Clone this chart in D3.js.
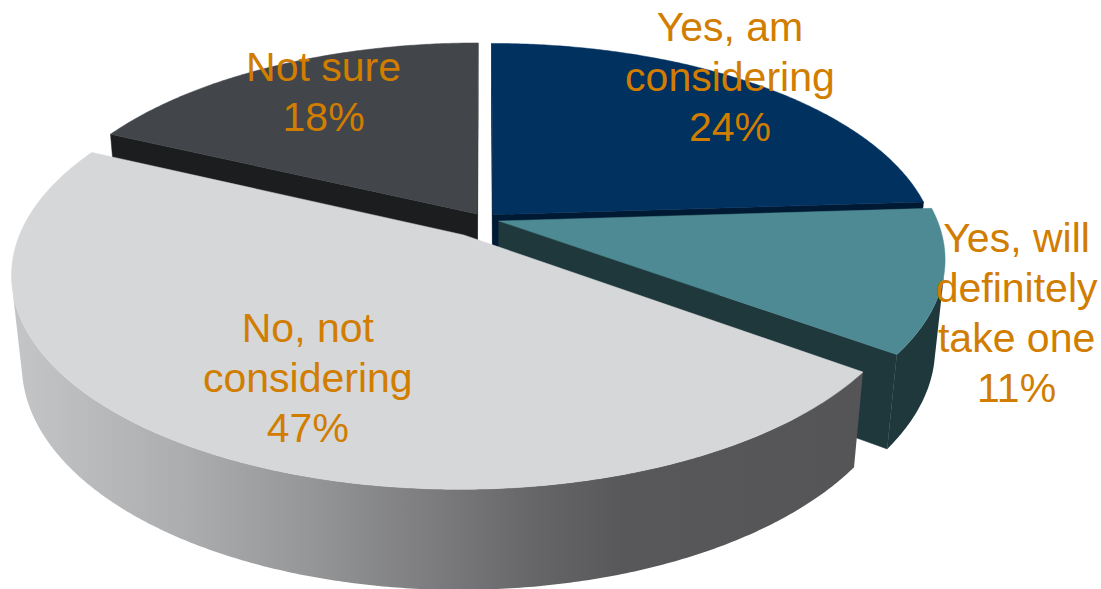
<!DOCTYPE html>
<html>
<head>
<meta charset="utf-8">
<script src="https://cdn.jsdelivr.net/npm/d3@7"></script>
<style>
  html, body { margin: 0; padding: 0; background: #ffffff; }
  svg { display: block; }
</style>
</head>
<body>
<svg id="chart" width="1101" height="589"></svg>
<script>
// ---- data ----
const categories = ["Yes, am considering", "Yes, will definitely take one", "No, not considering", "Not sure"];
const labelLines = [["Yes, am", "considering"], ["Yes, will", "definitely", "take one"], ["No, not", "considering"], ["Not sure"]];
const values = [24, 11, 47, 18];

// ---- styling ----
const topColors  = ["#00315f", "#4e8a93", "#d6d7d9", "#42464b"];
const sideColors = ["#011a34", "#1f383c", "url(#wallGrad)", "#1c1d1f"];
const explode    = [0.03, 0.035, 0.09, 0.03];      // radial offset, in pie radii
const labelRadius = [1.0, 1.167, 0.68, 0.79];      // label anchor on the top plane, in pie radii
const labelTurn   = [-4.8, 4.6, -3.7, 2.3];        // label angle relative to slice middle, degrees
const labelColor = "#d17d00";

// ---- 3D view ----
const cam = { phi: 27.6 * Math.PI / 180, dist: 5, focal: 2190, cx: 484, cy: 219 };
const thickness = 0.23;
const sp = Math.sin(cam.phi), cp = Math.cos(cam.phi);
const eye = [0, cam.dist * sp, cam.dist * cp];

function project(p) {
  const vx = p[0] - eye[0], vy = p[1] - eye[1], vz = p[2] - eye[2];
  const yc = vy * cp - vz * sp;
  const zc = -vy * sp - vz * cp;
  return [cam.cx + cam.focal * vx / zc, cam.cy - cam.focal * yc / zc];
}
function depth(p) {
  const vy = p[1] - eye[1], vz = p[2] - eye[2];
  return -vy * sp - vz * cp;
}
function rim(a, r, y, off) {
  return [off[0] + r * Math.sin(a), y, off[2] - r * Math.cos(a)];
}
function facing(p, n) {
  return (eye[0] - p[0]) * n[0] + (eye[1] - p[1]) * n[1] + (eye[2] - p[2]) * n[2] > 0;
}

const svg = d3.select("#chart");
const defs = svg.append("defs");
const grad = defs.append("linearGradient").attr("id", "wallGrad")
  .attr("gradientUnits", "userSpaceOnUse")
  .attr("x1", 15).attr("y1", 0).attr("x2", 860).attr("y2", 0);
[[0, "#c4c5c7"], [0.2, "#acadaf"], [0.35, "#959698"], [0.5, "#7b7b7d"], [0.62, "#656567"], [0.72, "#58585a"], [1, "#555557"]]
  .forEach(([o, c]) => grad.append("stop").attr("offset", o).attr("stop-color", c));

const pie = d3.pie().sort(null).value(d => d)(values);
const line = d3.line().curve(d3.curveLinear);
const step = Math.PI / 360;

const slices = pie.map((d, i) => {
  const mid = (d.startAngle + d.endAngle) / 2;
  const off = [explode[i] * Math.sin(mid), 0, -explode[i] * Math.cos(mid)];
  return { i, d, mid, off, z: depth([off[0], -thickness / 2, off[2]]) };
});
slices.sort((a, b) => b.z - a.z);

const g = svg.append("g");

slices.forEach(s => {
  const { i, d, off } = s;
  const a0 = d.startAngle, a1 = d.endAngle;
  const n = Math.max(2, Math.ceil((a1 - a0) / step));
  const angles = d3.range(n + 1).map(k => a0 + (a1 - a0) * k / n);
  const cTop = [off[0], 0, off[2]], cBot = [off[0], -thickness, off[2]];
  const sg = g.append("g").attr("class", "slice");

  // radial face at the start angle
  const n0 = [-Math.cos(a0), 0, -Math.sin(a0)];
  if (facing(rim(a0, 0.5, -thickness / 2, off), n0)) {
    sg.append("path")
      .attr("d", line([cTop, rim(a0, 1, 0, off), rim(a0, 1, -thickness, off), cBot].map(project)) + "Z")
      .attr("fill", sideColors[i]).attr("stroke", sideColors[i]).attr("stroke-width", 0.5);
  }
  // radial face at the end angle
  const n1 = [Math.cos(a1), 0, Math.sin(a1)];
  if (facing(rim(a1, 0.5, -thickness / 2, off), n1)) {
    sg.append("path")
      .attr("d", line([cTop, rim(a1, 1, 0, off), rim(a1, 1, -thickness, off), cBot].map(project)) + "Z")
      .attr("fill", sideColors[i]).attr("stroke", sideColors[i]).attr("stroke-width", 0.5);
  }
  // outer wall, split into visible runs
  let run = [];
  const runs = [];
  angles.forEach(a => {
    const vis = facing(rim(a, 1, -thickness / 2, off), [Math.sin(a), 0, -Math.cos(a)]);
    if (vis) run.push(a); else if (run.length) { runs.push(run); run = []; }
  });
  if (run.length) runs.push(run);
  runs.forEach(r => {
    if (r.length < 2) return;
    const pts = r.map(a => rim(a, 1, 0, off)).concat(r.slice().reverse().map(a => rim(a, 1, -thickness, off)));
    sg.append("path").attr("d", line(pts.map(project)) + "Z")
      .attr("fill", sideColors[i]).attr("stroke", "none");
  });
  // top face
  const topPts = [cTop].concat(angles.map(a => rim(a, 1, 0, off)));
  sg.append("path").attr("d", line(topPts.map(project)) + "Z")
    .attr("fill", topColors[i]).attr("stroke", topColors[i]).attr("stroke-width", 0.5);
});

// ---- labels ----
const fontSize = 41, lineH = 50;
const labels = svg.append("g").attr("class", "labels")
  .attr("font-family", "'Liberation Sans', Arial, sans-serif")
  .attr("font-size", fontSize).attr("fill", labelColor).attr("text-anchor", "middle");

pie.forEach((d, i) => {
  const mid = (d.startAngle + d.endAngle) / 2;
  const off = [explode[i] * Math.sin(mid), 0, -explode[i] * Math.cos(mid)];
  const ang = mid + labelTurn[i] * Math.PI / 180;
  const [x, y] = project(rim(ang, labelRadius[i], 0, off));
  const lines = labelLines[i].concat([values[i] + "%"]);
  const first = y - (lines.length - 1) * lineH / 2 + fontSize * 0.716 / 2;
  const t = labels.append("text").attr("x", x).attr("y", first);
  lines.forEach((ln, k) => t.append("tspan").attr("x", x).attr("y", first + k * lineH).text(ln));
});
</script>
</body>
</html>
